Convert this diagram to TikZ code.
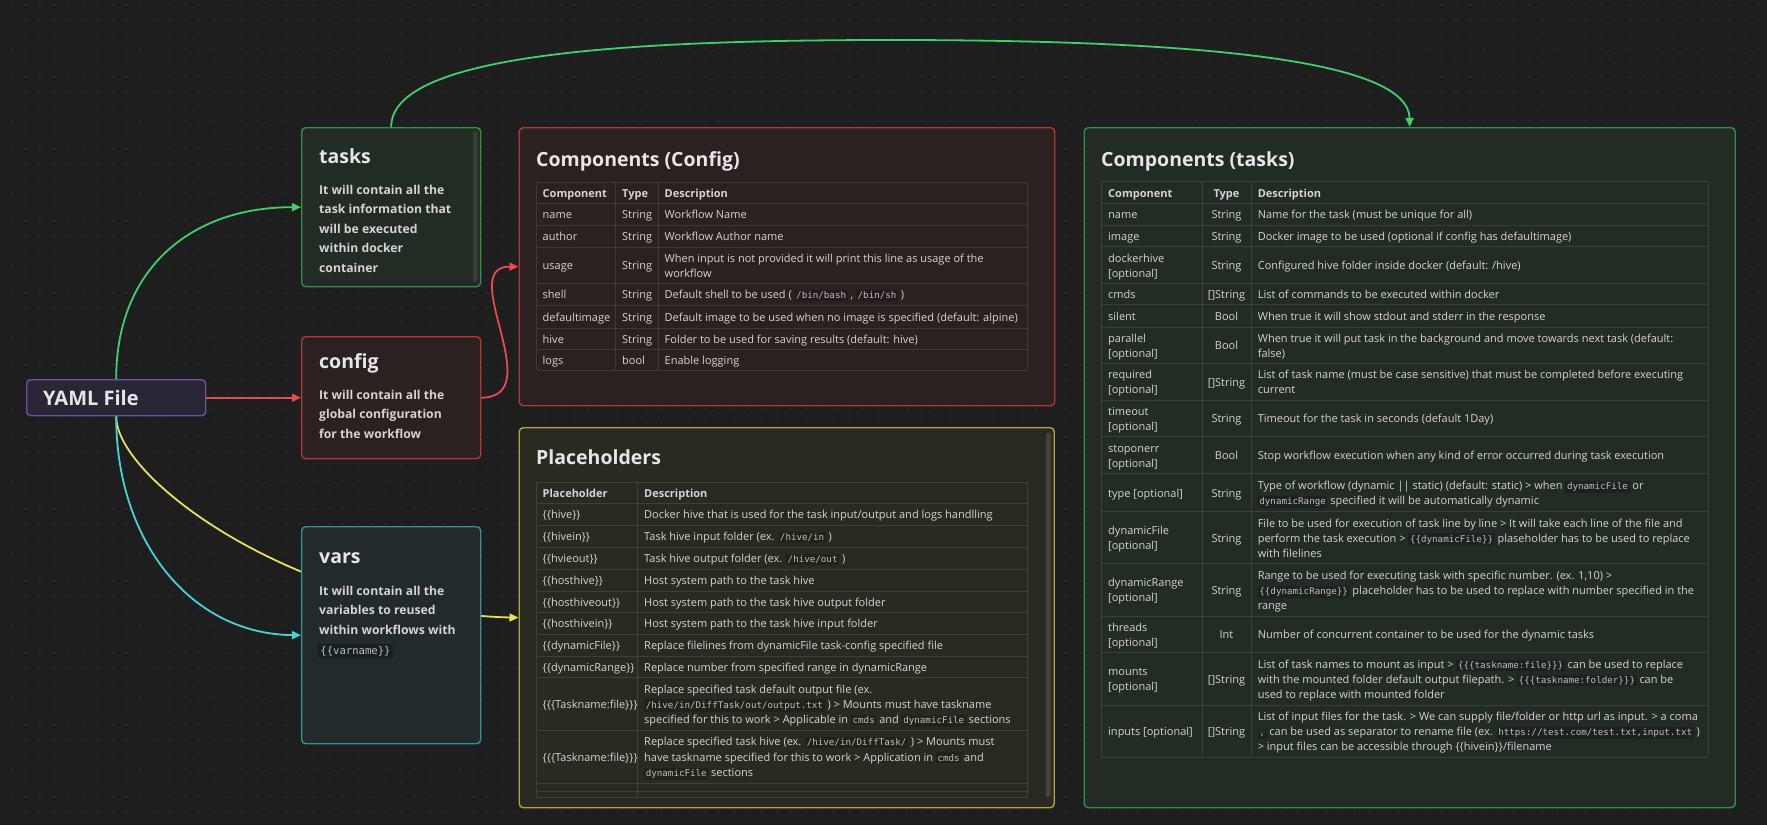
\documentclass[tikz,border=0pt]{standalone}
\usepackage{fontspec}
\setmainfont{Open Sans}
\setmonofont{DejaVu Sans Mono}
\usetikzlibrary{arrows.meta}

\definecolor{bgc}{HTML}{1E1E1E}
\definecolor{dotc}{HTML}{2E2E2E}
\definecolor{txtc}{HTML}{D4D4D4}
\definecolor{titc}{HTML}{E6E6E6}
\definecolor{codetxt}{HTML}{BDBDBD}
\definecolor{gfill}{HTML}{232B25}
\definecolor{gborder}{HTML}{2F8F4E}
\definecolor{garrow}{HTML}{3FCF6C}
\definecolor{rfill}{HTML}{2C2121}
\definecolor{rborder}{HTML}{B3363A}
\definecolor{rarrow}{HTML}{E84A4F}
\definecolor{yfill}{HTML}{2B2A22}
\definecolor{yborder}{HTML}{A9A643}
\definecolor{yarrow}{HTML}{E5E05E}
\definecolor{cfill}{HTML}{222A2C}
\definecolor{cborder}{HTML}{2B9696}
\definecolor{carrow}{HTML}{45D4D8}
\definecolor{pfill}{HTML}{2A2636}
\definecolor{pborder}{HTML}{6B52A6}
\colorlet{codebg}{black!30!bgc}

\pgfdeclarelayer{back}
\pgfsetlayers{back,main}

\newcounter{tl}
% one line of text, placed by its baseline
\newcommand\tline[3]{\stepcounter{tl}\node[txt] (t\arabic{tl}) at (#1,#2) {#3};}
% one centred line of text
\newcommand\tlinec[3]{\stepcounter{tl}\node[txtc] (t\arabic{tl}) at (#1,#2) {#3};}
% inline code span
\newcommand\cod[1]{{\fboxsep=1.6pt\colorbox{codebg}{\ttfamily\fontsize{9.2}{10}\selectfont\color{codetxt}#1}}}
\newcommand\bigcod[1]{{\fboxsep=2.2pt\colorbox{codebg}{\ttfamily\fontsize{10.6}{11}\selectfont\color{codetxt}#1}}}

\tikzset{
  box/.style={rectangle, rounded corners=4pt, line width=1.4pt, inner sep=0pt,
    anchor=north west},
  txt/.style={anchor=base west, inner sep=0pt, text=txtc, font=\fontsize{11}{14}\selectfont},
  txtc/.style={txt, anchor=base},
  ntxt/.style={anchor=base west, inner sep=0pt, text=txtc, font=\fontsize{12.2}{19}\selectfont\bfseries},
  ntitle/.style={anchor=base west, inner sep=0pt, text=titc, font=\fontsize{19.5}{20}\selectfont\bfseries},
  grid/.style={draw=white, draw opacity=0.1, line width=0.8pt},
  conn/.style={line width=1.8pt, -{Triangle[length=9pt,width=8pt]}},
  scroll/.style={rounded corners=2pt},
  dotrow/.style={dotc, line width=1.8pt, line cap=round, dash pattern=on 0pt off 14.45pt},
}

\begin{document}
\begin{tikzpicture}[x=1pt,y=-1pt]
\useasboundingbox (0,0) rectangle (1767,825);
\begin{pgfonlayer}{back}
  \fill[bgc] (0,0) rectangle (1767,825);
  \foreach \j in {0,...,56}
    \draw[dotrow] (11,{5+14.4*\j}) -- (1767,{5+14.4*\j});
\end{pgfonlayer}

% ---------- boxes ----------
\node[box, draw=pborder, fill=pfill, minimum width=179pt, minimum height=36pt] (yaml) at (26,379) {};
\node[box, draw=gborder, fill=gfill, minimum width=179pt, minimum height=159pt] (tasks) at (301,127) {};
\node[box, draw=rborder, fill=rfill, minimum width=179pt, minimum height=122pt] (config) at (301,336) {};
\node[box, draw=cborder, fill=cfill, minimum width=179pt, minimum height=217pt] (vars) at (301,526) {};
\node[box, draw=rborder, fill=rfill, minimum width=535.5pt, minimum height=278pt] (cconfig) at (518.5,127) {};
\node[box, draw=yborder, fill=yfill, minimum width=535pt, minimum height=380pt] (ph) at (518.5,427) {};
\node[box, draw=gborder, fill=gfill, minimum width=651pt, minimum height=680pt] (ctasks) at (1083.5,127) {};

% scroll bars
\fill[scroll, white, opacity=0.09] (473,131) rectangle (477.5,282);
\fill[scroll, white, opacity=0.12] (1046,433) rectangle (1050.5,797);

% ---------- connectors ----------
\begin{pgfonlayer}{back}
  \draw[conn, yarrow] (yaml.south) .. controls (116,480) and (300,612) .. (ph.west);
\end{pgfonlayer}
\draw[conn, garrow] (yaml.north) .. controls (116,270) and (190,207) .. (tasks.west);
\draw[conn, rarrow] (yaml.east) -- (config.west);
\draw[conn, rarrow] (config.east) .. controls (550,397) and (455,266) .. (cconfig.west);
\draw[conn, carrow] (yaml.south) .. controls (116,540) and (190,634) .. (vars.west);
\draw[conn, garrow] (tasks.north) .. controls (391,55) and (620,40) .. (891,40)
   .. controls (1200,40) and (1409,60) .. (ctasks.north);

% ---------- left nodes ----------
\node[anchor=base west, inner sep=0pt, text=titc, font=\fontsize{20}{20}\selectfont\bfseries] (yamlt) at (43,405) {YAML File};

\node[ntitle] (taskst) at (319,163) {tasks};
\node[ntxt] (tb1) at (319,194) {It will contain all the};
\node[ntxt] (tb2) at (319,213.5) {task information that};
\node[ntxt] (tb3) at (319,233) {will be executed};
\node[ntxt] (tb4) at (319,252.5) {within docker};
\node[ntxt] (tb5) at (319,272) {container};

\node[ntitle] (configt) at (319,368) {config};
\node[ntxt] (cb1) at (319,399) {It will contain all the};
\node[ntxt] (cb2) at (319,418.5) {global configuration};
\node[ntxt] (cb3) at (319,438) {for the workflow};

\node[ntitle] (varst) at (319,563) {vars};
\node[ntxt] (vb1) at (319,595) {It will contain all the};
\node[ntxt] (vb2) at (319,614.5) {variables to reused};
\node[ntxt] (vb3) at (319,634) {within workflows with};
\node[anchor=base west, inner sep=0pt] (vb4) at (318,654) {\colorlet{codebg}{black!25!cfill}\bigcod{\{\{varname\}\}}};

% ---------- Components (Config) ----------
\node[ntitle] (cconfigt) at (536,166) {Components (Config)};
\foreach \y in {182,203,225,247,283,305,328,349,370} \draw[grid] (536.5,\y) -- (1027.7,\y);
\foreach \x in {536.5,615.8,658.2,1027.7} \draw[grid] (\x,182) -- (\x,370);
\begin{scope}
\colorlet{codebg}{black!20!rfill}
\tline{542.5}{197}{\bfseries Component}
\tline{622}{197}{\bfseries Type}
\tline{664.5}{197}{\bfseries Description}
\tline{542.5}{218.5}{name}\tline{622}{218.5}{String}\tline{664.5}{218.5}{Workflow Name}
\tline{542.5}{240.5}{author}\tline{622}{240.5}{String}\tline{664.5}{240.5}{Workflow Author name}
\tline{542.5}{269.5}{usage}\tline{622}{269.5}{String}
\tline{664.5}{262}{When input is not provided it will print this line as usage of the}
\tline{664.5}{277.5}{workflow}
\tline{542.5}{298.5}{shell}\tline{622}{298.5}{String}
\tline{664.5}{298.5}{Default shell to be used ( \cod{/bin/bash} , \cod{/bin/sh} )}
\tline{542.5}{321}{defaultimage}\tline{622}{321}{String}
\tline{664.5}{321}{Default image to be used when no image is specified (default: alpine)}
\tline{542.5}{343}{hive}\tline{622}{343}{String}
\tline{664.5}{343}{Folder to be used for saving results (default: hive)}
\tline{542.5}{364}{logs}\tline{622}{364}{bool}\tline{664.5}{364}{Enable logging}
\end{scope}

% ---------- Placeholders ----------
\node[ntitle] (pht) at (536,464) {Placeholders};
\foreach \y in {482,503,525,547,569,591,612,634,656,677,730,783,791,797} \draw[grid] (536.5,\y) -- (1027.7,\y);
\foreach \x in {536.5,637.3,1027.7} \draw[grid] (\x,482) -- (\x,797);
\begin{scope}
\colorlet{codebg}{black!20!yfill}
\tline{542.5}{497}{\bfseries Placeholder}\tline{644}{497}{\bfseries Description}
\tline{542.5}{518.5}{\{\{hive\}\}}
\tline{644}{518.5}{Docker hive that is used for the task input/output and logs handlling}
\tline{542.5}{540.5}{\{\{hivein\}\}}
\tline{644}{540.5}{Task hive input folder (ex. \cod{/hive/in} )}
\tline{542.5}{562.5}{\{\{hvieout\}\}}
\tline{644}{562.5}{Task hive output folder (ex. \cod{/hive/out} )}
\tline{542.5}{584.5}{\{\{hosthive\}\}}
\tline{644}{584.5}{Host system path to the task hive}
\tline{542.5}{606}{\{\{hosthiveout\}\}}
\tline{644}{606}{Host system path to the task hive output folder}
\tline{542.5}{627.5}{\{\{hosthivein\}\}}
\tline{644}{627.5}{Host system path to the task hive input folder}
\tline{542.5}{649.5}{\{\{dynamicFile\}\}}
\tline{644}{649.5}{Replace filelines from dynamicFile task-config specified file}
\tline{542.5}{671}{\{\{dynamicRange\}\}}
\tline{644}{671}{Replace number from specified range in dynamicRange}
\tline{542.5}{708}{\{\{\{Taskname:file\}\}\}}
\tline{644}{693}{Replace specified task default output file (ex.}
\tline{644}{708}{\cod{/hive/in/DiffTask/out/output.txt} ) > Mounts must have taskname}
\tline{644}{723.5}{specified for this to work > Applicable in \cod{cmds} and \cod{dynamicFile} sections}
\tline{542.5}{761}{\{\{\{Taskname:file\}\}\}}
\tline{644}{745.5}{Replace specified task hive (ex. \cod{/hive/in/DiffTask/} ) > Mounts must}
\tline{644}{761}{have taskname specified for this to work > Application in \cod{cmds} and}
\tline{644}{776.5}{\cod{dynamicFile} sections}
\end{scope}

% ---------- Components (tasks) ----------
\node[ntitle] (ctaskst) at (1101,166) {Components (tasks)};
\foreach \y in {181.7,203.3,225.3,246.7,283.3,304.3,327.3,363.3,400,436.7,473.3,511.7,563.3,616,652.7,705,757.3}
  \draw[grid] (1101,\y) -- (1708,\y);
\foreach \x in {1101,1202,1251,1708} \draw[grid] (\x,181.7) -- (\x,757.3);
\begin{scope}
\colorlet{codebg}{black!20!gfill}
\def\ca{1108}\def\cb{1226.5}\def\cc{1257.6}
\tline{\ca}{197}{\bfseries Component}\tlinec{\cb}{197}{\bfseries Type}\tline{\cc}{197}{\bfseries Description}
\tline{\ca}{218.8}{name}\tlinec{\cb}{218.8}{String}
\tline{\cc}{218.8}{Name for the task (must be unique for all)}
\tline{\ca}{240.5}{image}\tlinec{\cb}{240.5}{String}
\tline{\cc}{240.5}{Docker image to be used (optional if config has defaultimage)}
\tline{\ca}{262}{dockerhive}\tline{\ca}{277}{[optional]}\tlinec{\cb}{269.5}{String}
\tline{\cc}{269.5}{Configured hive folder inside docker (default: /hive)}
\tline{\ca}{298.3}{cmds}\tlinec{\cb}{298.3}{[]String}
\tline{\cc}{298.3}{List of commands to be executed within docker}
\tline{\ca}{320.3}{silent}\tlinec{\cb}{320.3}{Bool}
\tline{\cc}{320.3}{When true it will show stdout and stderr in the response}
\tline{\ca}{342.3}{parallel}\tline{\ca}{357.3}{[optional]}\tlinec{\cb}{349.8}{Bool}
\tline{\cc}{342.3}{When true it will put task in the background and move towards next task (default:}
\tline{\cc}{357.3}{false)}
\tline{\ca}{378.7}{required}\tline{\ca}{393.7}{[optional]}\tlinec{\cb}{386.2}{[]String}
\tline{\cc}{378.7}{List of task name (must be case sensitive) that must be completed before executing}
\tline{\cc}{393.7}{current}
\tline{\ca}{415.3}{timeout}\tline{\ca}{430.3}{[optional]}\tlinec{\cb}{422.8}{String}
\tline{\cc}{422.8}{Timeout for the task in seconds (default 1Day)}
\tline{\ca}{452}{stoponerr}\tline{\ca}{467}{[optional]}\tlinec{\cb}{459.5}{Bool}
\tline{\cc}{459.5}{Stop workflow execution when any kind of error occurred during task execution}
\tline{\ca}{497}{type [optional]}\tlinec{\cb}{497}{String}
\tline{\cc}{489.5}{Type of workflow (dynamic || static) (default: static) > when \cod{dynamicFile} or}
\tline{\cc}{504.5}{\cod{dynamicRange} specified it will be automatically dynamic}
\tline{\ca}{534.5}{dynamicFile}\tline{\ca}{549.5}{[optional]}\tlinec{\cb}{542}{String}
\tline{\cc}{527}{File to be used for execution of task line by line > It will take each line of the file and}
\tline{\cc}{542}{perform the task execution > \cod{\{\{dynamicFile\}\}} plaseholder has to be used to replace}
\tline{\cc}{557}{with filelines}
\tline{\ca}{586.7}{dynamicRange}\tline{\ca}{601.7}{[optional]}\tlinec{\cb}{594.2}{String}
\tline{\cc}{579.2}{Range to be used for executing task with specific number. (ex. 1,10) >}
\tline{\cc}{594.2}{\cod{\{\{dynamicRange\}\}} placeholder has to be used to replace with number specified in the}
\tline{\cc}{609.2}{range}
\tline{\ca}{631.3}{threads}\tline{\ca}{646.3}{[optional]}\tlinec{\cb}{638.8}{Int}
\tline{\cc}{638.8}{Number of concurrent container to be used for the dynamic tasks}
\tline{\ca}{675.8}{mounts}\tline{\ca}{690.8}{[optional]}\tlinec{\cb}{683.3}{[]String}
\tline{\cc}{668.3}{List of task names to mount as input > \cod{\{\{\{taskname:file\}\}\}} can be used to replace}
\tline{\cc}{683.3}{with the mounted folder default output filepath. > \cod{\{\{\{taskname:folder\}\}\}} can be}
\tline{\cc}{698.3}{used to replace with mounted folder}
\tline{\ca}{735.7}{inputs [optional]}\tlinec{\cb}{735.7}{[]String}
\tline{\cc}{720.7}{List of input files for the task. > We can supply file/folder or http url as input. > a coma}
\tline{\cc}{735.7}{\cod{,} can be used as separator to rename file (ex. \cod{https://test.com/test.txt,input.txt} )}
\tline{\cc}{750.7}{> input files can be accessible through \{\{hivein\}\}/filename}
\end{scope}
\end{tikzpicture}
\end{document}
